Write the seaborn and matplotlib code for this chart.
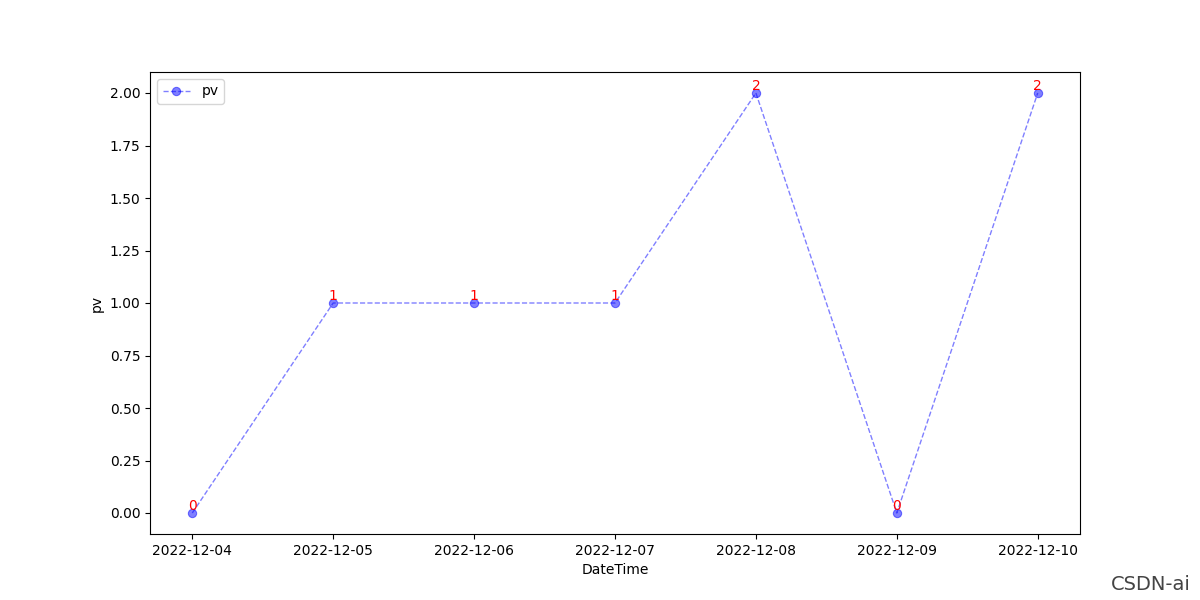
import matplotlib
matplotlib.use("Agg")
import matplotlib.pyplot as plt
import seaborn as sns
import pandas as pd

# dati
dates = ["2022-12-04", "2022-12-05", "2022-12-06", "2022-12-07",
         "2022-12-08", "2022-12-09", "2022-12-10"]
pv = [0, 1, 1, 1, 2, 0, 2]

df = pd.DataFrame({"DateTime": dates, "pv": pv})

fig = plt.figure(figsize=(12, 6), dpi=100)
ax = sns.lineplot(data=df, x="DateTime", y="pv", marker="o", linestyle="--",
                  color="blue", alpha=0.5, linewidth=1, label="pv",
                  markeredgecolor="blue")

# etichette sui punti
for i, v in enumerate(pv):
    ax.text(i, v, str(v), ha="center", va="bottom", color="red", fontsize=10)

ax.legend(loc="upper left")
ax.set_xlabel("DateTime")
ax.set_ylabel("pv")

# watermark
fig.text(0.992, 0.01, "CSDN-ai", ha="right", va="bottom", fontsize=14,
         color="#444444")

plt.savefig("out.png")
